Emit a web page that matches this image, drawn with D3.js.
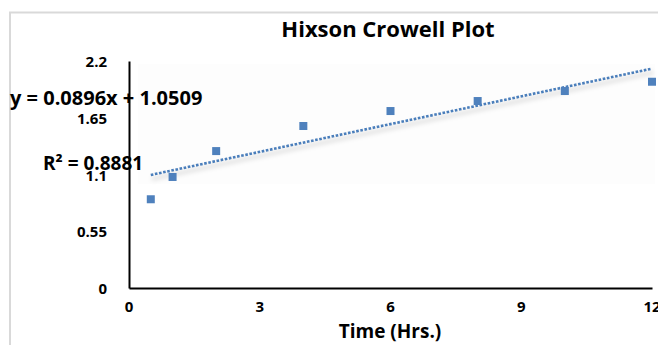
<!DOCTYPE html>
<html>
<head>
<meta charset="utf-8">
<script src="https://cdn.jsdelivr.net/npm/d3@7"></script>
<style>
  html, body { margin: 0; padding: 0; background: #fff; }
  svg { display: block; }
  text { font-family: "Open Sans", "Liberation Sans", sans-serif; font-weight: bold; fill: #000; }
</style>
</head>
<body>
<svg id="chart" width="658" height="345"></svg>
<script>
// Hixson-Crowell release data: time (hours) vs cube-root term
const timeHrs = [0.5, 1, 2, 4, 6, 8, 10, 12];
const hcValues = [0.86, 1.076, 1.327, 1.57, 1.715, 1.812, 1.909, 1.999];

// Linear trendline reported on the chart
const slope = 0.0896;
const intercept = 1.0509;
const rSquared = 0.8881;

const xTicks = [0, 3, 6, 9, 12];
const yTicks = [0, 0.55, 1.1, 1.65, 2.2];
const yTickLabels = ["0", "0.55", "1.1", "1.65", "2.2"];

const svg = d3.select("#chart");

const x = d3.scaleLinear().domain([0, 12]).range([129, 652]);
const y = d3.scaleLinear().domain([0, 2.2]).range([288, 61]);

// outer chart frame
svg.append("path")
  .attr("d", "M10,345 V12.5 H658")
  .attr("fill", "none")
  .attr("stroke", "#d9d9d9")
  .attr("stroke-width", 2);

// very faint plot-area shading
svg.append("rect")
  .attr("x", 138).attr("y", 64)
  .attr("width", 517).attr("height", 120)
  .attr("fill", "#fdfdfd");

// title
svg.append("text")
  .attr("x", 388).attr("y", 37)
  .attr("text-anchor", "middle")
  .style("font-size", "22px")
  .text("Hixson Crowell Plot");

// y tick labels
svg.append("g").selectAll("text")
  .data(yTicks)
  .join("text")
  .attr("x", 107)
  .attr("y", d => y(d) + 6)
  .attr("text-anchor", "end")
  .style("font-size", "15px")
  .text((d, i) => yTickLabels[i]);

// x tick labels
svg.append("g").selectAll("text")
  .data(xTicks)
  .join("text")
  .attr("x", d => x(d))
  .attr("y", 312)
  .attr("text-anchor", "middle")
  .style("font-size", "15px")
  .text(d => d);

// axis lines (no tick marks)
const yAxis = d3.axisLeft(y).tickValues([]).tickSize(0);
const xAxis = d3.axisBottom(x).tickValues([]).tickSize(0);
svg.append("g").attr("transform", `translate(${x(0)},0)`).call(yAxis)
  .select(".domain").attr("stroke", "#000").attr("stroke-width", 2);
svg.append("g").attr("transform", `translate(0,${y(0)})`).call(xAxis)
  .select(".domain").attr("stroke", "#000").attr("stroke-width", 2);

// x axis title
svg.append("text")
  .attr("x", 390).attr("y", 338)
  .attr("text-anchor", "middle")
  .style("font-size", "19px")
  .text("Time (Hrs.)");

// trendline with soft shadow
const tStart = d3.min(timeHrs), tEnd = d3.max(timeHrs);
const trend = [[tStart, slope * tStart + intercept], [tEnd, slope * tEnd + intercept]];
const line = d3.line().x(d => x(d[0])).y(d => y(d[1]));

const defs = svg.append("defs");
defs.append("filter").attr("id", "soft")
  .attr("x", "-5%").attr("y", "-50%").attr("width", "110%").attr("height", "200%")
  .append("feGaussianBlur").attr("stdDeviation", 2);

svg.append("path")
  .datum(trend)
  .attr("d", line)
  .attr("transform", "translate(1,4)")
  .attr("fill", "none")
  .attr("stroke", "#000")
  .attr("stroke-opacity", 0.1)
  .attr("stroke-width", 4)
  .attr("filter", "url(#soft)");

svg.append("path")
  .datum(trend)
  .attr("d", line)
  .attr("fill", "none")
  .attr("stroke", "#4a7ebb")
  .attr("stroke-width", 2.6)
  .attr("stroke-dasharray", "2.6,1.6");

// data markers
svg.append("g").selectAll("rect")
  .data(timeHrs.map((t, i) => [t, hcValues[i]]))
  .join("rect")
  .attr("x", d => x(d[0]) - 4)
  .attr("y", d => y(d[1]) - 4)
  .attr("width", 8).attr("height", 8)
  .attr("fill", "#4f81bd");

// trendline labels
svg.append("text")
  .attr("x", 10).attr("y", 105)
  .style("font-size", "20px")
  .text(`y = ${slope}x + ${intercept}`);

svg.append("text")
  .attr("x", 43).attr("y", 170)
  .style("font-size", "19px")
  .text(`R² = ${rSquared}`);
</script>
</body>
</html>
